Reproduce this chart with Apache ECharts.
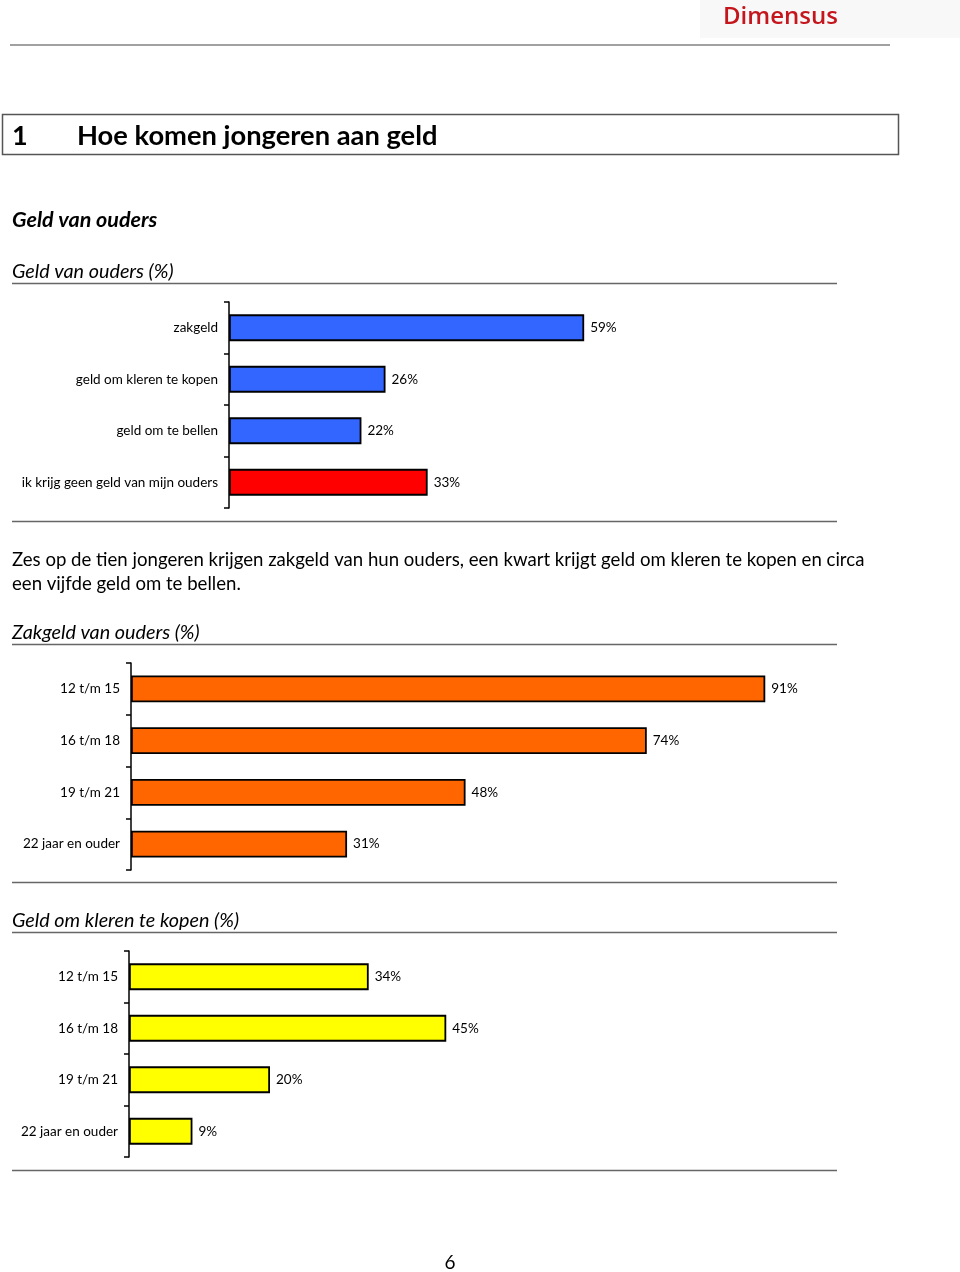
<!DOCTYPE html>
<html>
<head>
<meta charset="utf-8">
<script src="https://cdn.jsdelivr.net/npm/echarts@6/dist/echarts.min.js"></script>
<style>
html,body{margin:0;padding:0;background:#fff;}
#c{width:960px;height:1272px;}
</style>
</head>
<body>
<div id="c"></div>
<script>
// Chart 1: Geld van ouders (%)
var cats1 = ['zakgeld', 'geld om kleren te kopen', 'geld om te bellen', 'ik krijg geen geld van mijn ouders'];
var vals1 = [59, 26, 22, 33];
// Chart 2: Zakgeld van ouders (%)
var cats2 = ['12 t/m 15', '16 t/m 18', '19 t/m 21', '22 jaar en ouder'];
var vals2 = [91, 74, 48, 31];
// Chart 3: Geld om kleren te kopen (%)
var cats3 = ['12 t/m 15', '16 t/m 18', '19 t/m 21', '22 jaar en ouder'];
var vals3 = [34, 45, 20, 9];

var colors1 = ['#3366FF', '#3366FF', '#3366FF', '#FF0000'];
var FONT = 'Lato, "Liberation Sans", sans-serif';

var chart = echarts.init(document.getElementById('c'), null, {renderer: 'canvas'});

function yAx(idx, cats) {
  return {
    type: 'category', gridIndex: idx, data: cats, inverse: true,
    axisLine: {show: true, lineStyle: {color: '#000', width: 1.5}},
    axisTick: {show: true, length: 5, lineStyle: {color: '#000', width: 1.5}},
    axisLabel: {fontFamily: FONT, fontSize: 13.5, color: '#000', margin: 11},
    splitLine: {show: false}
  };
}
function xAx(idx) {
  return {type: 'value', gridIndex: idx, min: 0, max: 100, show: false, splitLine: {show: false}};
}
function bar(idx, vals, colorFn) {
  return {
    type: 'bar', xAxisIndex: idx, yAxisIndex: idx, barWidth: '52%',
    data: vals.map(function (v, i) { return {value: v, itemStyle: {color: colorFn(i)}}; }),
    itemStyle: {borderColor: '#000', borderWidth: 1.8},
    label: {show: true, position: 'right', distance: 6, formatter: '{c}%', fontFamily: FONT, fontSize: 13.5, color: '#000'},
    animation: false, silent: true
  };
}
function hline(y, x1, x2, color, w) {
  return {type: 'line', shape: {x1: x1, y1: y, x2: x2, y2: y}, style: {stroke: color || '#666', lineWidth: w || 1.5}, silent: true};
}
function txt(x, y, s, font, fill, align) {
  return {type: 'text', x: x, y: y, style: {text: s, font: font, fill: fill || '#000', align: align || 'left', verticalAlign: 'middle'}, silent: true};
}

var option = {
  animation: false,
  grid: [
    {left: 229, top: 302, width: 602, height: 206, containLabel: false},
    {left: 131, top: 663, width: 697, height: 207, containLabel: false},
    {left: 129, top: 951, width: 705, height: 206, containLabel: false}
  ],
  xAxis: [xAx(0), xAx(1), xAx(2)],
  yAxis: [yAx(0, cats1), yAx(1, cats2), yAx(2, cats3)],
  series: [
    bar(0, vals1, function (i) { return colors1[i]; }),
    bar(1, vals2, function () { return '#FF6600'; }),
    bar(2, vals3, function () { return '#FFFF00'; })
  ],
  graphic: [
    {type: 'rect', shape: {x: 700, y: 0, width: 260, height: 38}, style: {fill: '#f8f8f8'}, silent: true},
    txt(723, 17, 'Dimensus', '600 24px "Open Sans", sans-serif', '#C4161C'),
    hline(45, 10, 890, '#444', 1.2),
    {type: 'rect', shape: {x: 2.5, y: 114.5, width: 896, height: 40}, style: {fill: '#fff', stroke: '#555', lineWidth: 1.5}, silent: true},
    txt(12, 136, '1', 'bold 27px ' + FONT),
    txt(77, 136, 'Hoe komen jongeren aan geld', 'bold 27.3px ' + FONT),
    txt(12, 220, 'Geld van ouders', 'italic bold 21.5px ' + FONT),
    txt(12, 272, 'Geld van ouders (%)', 'italic 19.8px ' + FONT),
    hline(283.5, 12, 837),
    hline(521.5, 12, 837),
    txt(12, 560, 'Zes op de tien jongeren krijgen zakgeld van hun ouders, een kwart krijgt geld om kleren te kopen en circa', '18.6px ' + FONT),
    txt(12, 584, 'een vijfde geld om te bellen.', '18.6px ' + FONT),
    txt(12, 633, 'Zakgeld van ouders (%)', 'italic 19.8px ' + FONT),
    hline(644.5, 12, 837),
    hline(882.5, 12, 837),
    txt(12, 921, 'Geld om kleren te kopen (%)', 'italic 19.8px ' + FONT),
    hline(932.5, 12, 837),
    hline(1170.5, 12, 837),
    txt(450, 1263, '6', '19px ' + FONT, '#000', 'center')
  ]
};
chart.setOption(option);
</script>
</body>
</html>
